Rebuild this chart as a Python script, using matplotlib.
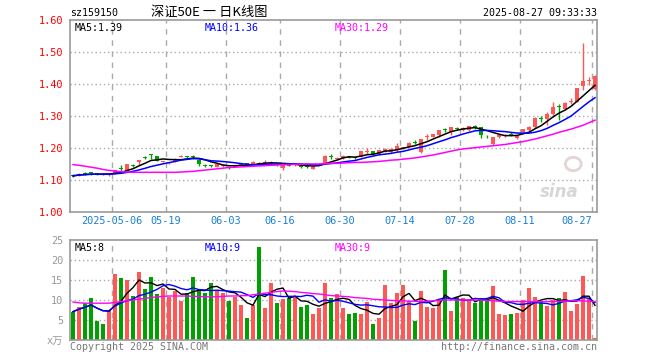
import matplotlib
matplotlib.use("Agg")
import matplotlib.pyplot as plt
from matplotlib.patches import Ellipse
import numpy as np
import pandas as pd

plt.rcParams['font.family'] = ['DejaVu Sans Mono', 'Noto Sans CJK SC']

# daily candles, 2025-04-22 .. 2025-08-27 (88 trading days)
opens = [1.115, 1.117, 1.121, 1.123, 1.120, 1.118, 1.116, 1.121, 1.135, 1.131,
         1.147, 1.156, 1.172, 1.179, 1.175, 1.157, 1.153, 1.158, 1.172, 1.175,
         1.174, 1.161, 1.147, 1.146, 1.142, 1.143, 1.140, 1.142, 1.148, 1.151,
         1.151, 1.153, 1.150, 1.153, 1.149, 1.137, 1.147, 1.147, 1.143, 1.143,
         1.135, 1.148, 1.152, 1.175, 1.167, 1.168, 1.173, 1.171, 1.173, 1.188,
         1.190, 1.180, 1.189, 1.188, 1.194, 1.199, 1.204, 1.218, 1.189, 1.233,
         1.235, 1.240, 1.257, 1.250, 1.261, 1.257, 1.255, 1.267, 1.266, 1.238,
         1.213, 1.233, 1.238, 1.244, 1.230, 1.250, 1.256, 1.265, 1.292, 1.290,
         1.306, 1.329, 1.321, 1.345, 1.345, 1.394, 1.408, 1.384]
closes = [1.113, 1.118, 1.120, 1.121, 1.118, 1.117, 1.118, 1.130, 1.133, 1.150,
          1.145, 1.163, 1.170, 1.177, 1.160, 1.159, 1.155, 1.167, 1.176, 1.172,
          1.172, 1.151, 1.145, 1.144, 1.150, 1.145, 1.138, 1.145, 1.151, 1.149,
          1.155, 1.151, 1.157, 1.156, 1.147, 1.149, 1.145, 1.149, 1.141, 1.141,
          1.142, 1.151, 1.176, 1.173, 1.169, 1.176, 1.170, 1.169, 1.190, 1.190,
          1.181, 1.194, 1.196, 1.196, 1.206, 1.202, 1.217, 1.216, 1.227, 1.236,
          1.243, 1.256, 1.255, 1.265, 1.259, 1.262, 1.268, 1.265, 1.241, 1.236,
          1.233, 1.241, 1.242, 1.242, 1.238, 1.258, 1.267, 1.295, 1.290, 1.306,
          1.327, 1.327, 1.342, 1.348, 1.387, 1.409, 1.411, 1.425]
highs = [1.118, 1.121, 1.124, 1.126, 1.121, 1.119, 1.119, 1.131, 1.147, 1.151,
         1.150, 1.164, 1.174, 1.181, 1.176, 1.160, 1.157, 1.168, 1.177, 1.176,
         1.177, 1.162, 1.150, 1.148, 1.151, 1.146, 1.142, 1.146, 1.152, 1.152,
         1.159, 1.156, 1.164, 1.158, 1.151, 1.150, 1.150, 1.150, 1.146, 1.145,
         1.143, 1.153, 1.178, 1.181, 1.172, 1.177, 1.174, 1.173, 1.191, 1.199,
         1.191, 1.195, 1.199, 1.199, 1.215, 1.204, 1.218, 1.224, 1.229, 1.245,
         1.244, 1.257, 1.264, 1.266, 1.265, 1.265, 1.270, 1.272, 1.267, 1.242,
         1.234, 1.242, 1.244, 1.249, 1.239, 1.260, 1.268, 1.296, 1.300, 1.313,
         1.345, 1.338, 1.344, 1.355, 1.388, 1.527, 1.422, 1.427]
lows = [1.109, 1.114, 1.116, 1.117, 1.116, 1.115, 1.114, 1.119, 1.124, 1.129,
        1.140, 1.147, 1.165, 1.165, 1.159, 1.155, 1.151, 1.156, 1.171, 1.170,
        1.166, 1.143, 1.142, 1.141, 1.141, 1.141, 1.134, 1.140, 1.147, 1.147,
        1.150, 1.146, 1.149, 1.151, 1.143, 1.131, 1.143, 1.145, 1.138, 1.138,
        1.134, 1.146, 1.151, 1.165, 1.164, 1.166, 1.169, 1.166, 1.171, 1.180,
        1.178, 1.178, 1.186, 1.185, 1.186, 1.196, 1.202, 1.211, 1.185, 1.226,
        1.233, 1.233, 1.250, 1.240, 1.255, 1.252, 1.253, 1.260, 1.232, 1.230,
        1.210, 1.230, 1.235, 1.236, 1.227, 1.247, 1.254, 1.263, 1.282, 1.272,
        1.296, 1.288, 1.319, 1.338, 1.343, 1.381, 1.397, 1.382]
# 30-day average as drawn (needs history before the window)
ma30 = [1.148, 1.146, 1.143, 1.140, 1.137, 1.133, 1.130, 1.128, 1.126, 1.125,
        1.124, 1.124, 1.124, 1.124, 1.124, 1.124, 1.124, 1.124, 1.125, 1.126,
        1.127, 1.129, 1.131, 1.133, 1.135, 1.137, 1.139, 1.140, 1.141, 1.142,
        1.143, 1.144, 1.145, 1.146, 1.147, 1.148, 1.148, 1.149, 1.149, 1.150,
        1.150, 1.150, 1.151, 1.152, 1.152, 1.153, 1.154, 1.155, 1.155, 1.156,
        1.157, 1.158, 1.160, 1.162, 1.163, 1.165, 1.167, 1.169, 1.172, 1.175,
        1.178, 1.182, 1.186, 1.190, 1.194, 1.197, 1.199, 1.201, 1.203, 1.205,
        1.207, 1.209, 1.211, 1.214, 1.217, 1.220, 1.224, 1.228, 1.233, 1.238,
        1.243, 1.249, 1.254, 1.259, 1.265, 1.271, 1.279, 1.287]

# volume (x10k)
vols = [7.1, 8.3, 9.2, 10.4, 4.8, 4.0, 7.5, 16.5, 15.5, 15.0,
        11.0, 17.0, 12.75, 15.75, 11.5, 13.0, 10.75, 12.25, 9.8, 11.7,
        15.75, 12.7, 11.8, 14.25, 12.5, 11.7, 9.8, 10.75, 8.75, 5.5,
        8.75, 23.25, 8.0, 14.25, 9.25, 10.25, 10.4, 10.75, 8.25, 8.75,
        6.5, 8.0, 14.25, 10.5, 11.5, 8.0, 6.5, 6.75, 6.5, 9.5,
        4.0, 5.5, 13.75, 9.25, 11.75, 13.75, 9.75, 4.75, 12.25, 8.25,
        8.0, 10.25, 17.5, 7.25, 10.75, 10.5, 10.0, 9.25, 10.5, 9.75,
        13.5, 6.5, 6.25, 6.5, 6.75, 10.0, 13.0, 10.75, 9.5, 8.5,
        10.0, 10.5, 12.0, 7.25, 9.0, 16.0, 10.5, 0.5]
vol_ma30 = [9.5, 9.3, 9.2, 9.2, 9.2, 9.2, 9.2, 9.4, 9.6, 9.8,
            10.0, 10.2, 10.4, 10.6, 10.8, 10.9, 11.0, 11.0, 11.0, 11.0,
            10.9, 10.9, 10.8, 10.8, 10.8, 10.9, 11.0, 11.0, 11.1, 11.1,
            11.3, 11.5, 11.7, 11.9, 12.1, 12.25, 12.2, 12.1, 11.9, 11.8,
            11.6, 11.5, 11.3, 11.1, 11.0, 10.9, 10.8, 10.6, 10.5, 10.4,
            10.2, 10.1, 10.0, 9.9, 9.8, 9.8, 9.7, 9.7, 9.6, 9.7,
            9.8, 9.9, 10.0, 10.0, 10.0, 10.0, 10.0, 10.0, 10.0, 9.9,
            9.8, 9.7, 9.6, 9.6, 9.6, 9.6, 9.6, 9.6, 9.6, 9.6,
            9.6, 9.7, 9.7, 9.8, 9.8, 9.8, 9.7, 9.6]

date_idx = [7, 16, 26, 35, 45, 55, 65, 75, 87]
date_lbl = ['2025-05-06', '05-19', '06-03', '06-16', '06-30', '07-14', '07-28', '08-11', '08-27']

RED = '#ff5656'
GREEN = '#00a000'

n = len(closes)
x = np.arange(n)
o = np.array(opens); c = np.array(closes)
colors = [RED if c[i] >= o[i] else GREEN for i in range(n)]
ma5 = pd.Series(c).rolling(5, min_periods=1).mean()
ma10 = pd.Series(c).rolling(10, min_periods=1).mean()
v = pd.Series(vols)
vma5 = v.rolling(5, min_periods=1).mean()
vma10 = v.rolling(10, min_periods=1).mean()

W, H = 660, 360
fig = plt.figure(figsize=(6.6, 3.6), dpi=100)
fig.patch.set_facecolor('white')

def px(l, t, r, b):
    return [l / W, 1 - b / H, (r - l) / W, (b - t) / H]

ax = fig.add_axes(px(70, 20, 597, 212))
axv = fig.add_axes(px(70, 240, 597, 340))
xlim = (-0.5, -0.5 + 527 / 6)

for a in (ax, axv):
    a.set_xlim(*xlim)
    for s in a.spines.values():
        s.set_color('#999999')
        s.set_linewidth(1.2)
    for k in date_idx:
        a.axvline(k - 0.5, color='#aaaaaa', lw=1, ls=(0, (4, 4)), zorder=0)
    a.tick_params(length=0)

# price panel
ax.set_ylim(1.0, 1.6)
for yv in np.arange(1.1, 1.6, 0.1):
    ax.axhline(yv, color='#aaaaaa', lw=1, ls=(0, (1, 2)), zorder=0)
ax.vlines(x, lows, highs, colors=colors, lw=1, zorder=2)
body_lo = np.minimum(o, c)
body_h = np.maximum(np.abs(c - o), 0.003)
ax.bar(x, body_h, bottom=body_lo, width=0.8, color=colors, linewidth=0, zorder=3)
ax.plot(x, ma5, color='black', lw=1.1, zorder=4)
ax.plot(x, ma10, color='#0000ff', lw=1.1, zorder=4)
ax.plot(x, ma30, color='#ff00ff', lw=1.1, zorder=4)
ax.set_yticks(np.round(np.arange(1.0, 1.61, 0.1), 2))
ax.set_yticklabels(['%.2f' % t for t in np.arange(1.0, 1.61, 0.1)], color='red', fontsize=7.4)
ax.tick_params(axis='y', pad=5)
ax.set_xticks([k - 0.5 for k in date_idx])
ax.set_xticklabels(date_lbl, color='#1a7fd4', fontsize=7.4)
ax.tick_params(axis='x', pad=3)
ax.get_xticklabels()[-1].set_ha('right')
ax.text(0.008, 0.985, 'MA5:1.39', transform=ax.transAxes, color='black', fontsize=7.2, va='top')
ax.text(0.255, 0.985, 'MA10:1.36', transform=ax.transAxes, color='#0000ff', fontsize=7.2, va='top')
ax.text(0.502, 0.985, 'MA30:1.29', transform=ax.transAxes, color='#ff00ff', fontsize=7.2, va='top')
# faint sina watermark
ax.add_patch(Ellipse((0.955, 0.25), 0.03, 0.07, transform=ax.transAxes, fill=False,
                     ec='#e4d4d4', lw=2, zorder=1))
ax.text(0.965, 0.08, 'sina', transform=ax.transAxes, color='#d6d6d6', fontsize=12,
        fontweight='bold', style='italic', ha='right', family='DejaVu Sans', zorder=1)

# volume panel
axv.set_ylim(0, 25)
for yv in [5, 10, 15, 20]:
    axv.axhline(yv, color='#aaaaaa', lw=1, ls=(0, (1, 2)), zorder=0)
axv.bar(x, vols, width=0.8, color=colors, linewidth=0, zorder=2)
axv.plot(x, vma5, color='black', lw=1, zorder=3)
axv.plot(x, vma10, color='#0000ff', lw=1, zorder=3)
axv.plot(x, vol_ma30, color='#ff00ff', lw=1, zorder=3)
axv.set_yticks([0, 5, 10, 15, 20, 25])
axv.set_yticklabels(['x万', '5', '10', '15', '20', '25'], color='#999999', fontsize=7.4)
axv.tick_params(axis='y', pad=5)
axv.set_xticks([])
axv.text(0.008, 0.97, 'MA5:8', transform=axv.transAxes, color='black', fontsize=7.2, va='top')
axv.text(0.255, 0.97, 'MA10:9', transform=axv.transAxes, color='#0000ff', fontsize=7.2, va='top')
axv.text(0.502, 0.97, 'MA30:9', transform=axv.transAxes, color='#ff00ff', fontsize=7.2, va='top')

# header / footer
fig.text(70 / W, 1 - 13 / H, 'sz159150', fontsize=7.2, va='center', ha='left')
fig.text(209 / W, 1 - 12 / H, '深证50E 一 日K线图', fontsize=9.5, va='center', ha='center',
         family=['Noto Sans CJK SC', 'DejaVu Sans'])
fig.text(597 / W, 1 - 13 / H, '2025-08-27 09:33:33', fontsize=7.2, va='center', ha='right')
fig.text(70 / W, 1 - 347 / H, 'Copyright 2025 SINA.COM', fontsize=7.2, va='center', ha='left', color='#777777')
fig.text(597 / W, 1 - 347 / H, 'http://finance.sina.com.cn', fontsize=7.2, va='center', ha='right', color='#777777')

fig.savefig('out.png', dpi=100)
